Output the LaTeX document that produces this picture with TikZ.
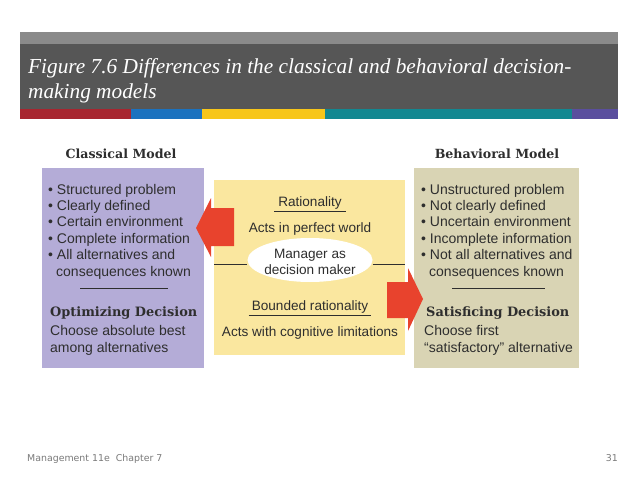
\documentclass[tikz,border=0pt]{standalone}
\usepackage{fontspec}
\setmainfont{Liberation Serif}
\setsansfont{Liberation Sans}
\newfontfamily\footfont{DejaVu Sans}
\newfontfamily\headserif{DejaVu Serif}
\usetikzlibrary{shapes.geometric,calc}
\definecolor{hdrlight}{HTML}{8A8A8A}
\definecolor{hdrdark}{HTML}{565656}
\definecolor{barred}{HTML}{A8252F}
\definecolor{barblue}{HTML}{1B72BF}
\definecolor{baryel}{HTML}{F7C61A}
\definecolor{barteal}{HTML}{128891}
\definecolor{barpurp}{HTML}{5A4E9E}
\definecolor{classbox}{HTML}{B4ACD7}
\definecolor{behavbox}{HTML}{D9D4B4}
\definecolor{midbox}{HTML}{FAE79F}
\definecolor{arrowred}{HTML}{E8432D}
\definecolor{txt}{HTML}{2E2E2E}
\definecolor{foot}{HTML}{7A7A7A}
\tikzset{
  body/.style={font=\sffamily\fontsize{14}{16}\selectfont, text=txt, inner sep=0pt, anchor=base west},
  mid/.style={font=\sffamily\fontsize{13.6}{16}\selectfont, text=txt, inner sep=0pt, anchor=base},
  heading/.style={font=\headserif\bfseries\fontsize{12.6}{14}\selectfont, text=txt, inner sep=0pt, anchor=base},
  decision/.style={font=\headserif\bfseries\fontsize{12.9}{15}\selectfont, text=txt, inner sep=0pt, anchor=base west},
  titletext/.style={font=\itshape\fontsize{21.3}{25}\selectfont, text=white, inner sep=0pt, anchor=base west},
  foottext/.style={font=\footfont\fontsize{9.4}{11}\selectfont, text=foot, inner sep=0pt},
  rule/.style={draw=txt, line width=0.7pt}
}
\begin{document}
\begin{tikzpicture}[x=1pt,y=-1pt]
\useasboundingbox (0,0) rectangle (638,479);
\fill[white] (0,0) rectangle (638,479);
% header
\fill[hdrlight] (20,32) rectangle (618,44);
\fill[hdrdark] (20,44) rectangle (618,109);
\fill[barred] (20,109) rectangle (131,119);
\fill[barblue] (131,109) rectangle (202,119);
\fill[baryel] (202,109) rectangle (325,119);
\fill[barteal] (325,109) rectangle (572,119);
\fill[barpurp] (572,109) rectangle (618,119);
\node[titletext] (title1) at (28,73) {Figure 7.6 Differences in the classical and behavioral decision-};
\node[titletext] (title2) at (28,98) {making models};
% boxes
\fill[classbox] (42,168) rectangle (204,368);
\fill[behavbox] (414,168) rectangle (579,368);
\fill[midbox] (214,180) rectangle (405,355);
\node[heading] (chead) at (121,158) {Classical Model};
\node[heading] (bhead) at (497,158) {Behavioral Model};
% classical list
\node[body] (c1) at (48,194) {• Structured problem};
\node[body] (c2) at (48,210.4) {• Clearly defined};
\node[body] (c3) at (48,226.8) {• Certain environment};
\node[body] (c4) at (48,243.2) {• Complete information};
\node[body] (c5) at (48,259.6) {• All alternatives and};
\node[body] (c6) at (56,276) {consequences known};
\coordinate (cl1) at (80,288);
\coordinate (cl2) at (168,288);
\draw[rule] (cl1) -- (cl2);
\node[decision] (cdec) at (50,316) {Optimizing Decision};
\node[body] (c7) at (50,335) {Choose absolute best};
\node[body] (c8) at (50,352) {among alternatives};
% behavioral list
\node[body] (b1) at (421,194) {• Unstructured problem};
\node[body] (b2) at (421,210.4) {• Not clearly defined};
\node[body] (b3) at (421,226.8) {• Uncertain environment};
\node[body] (b4) at (421,243.2) {• Incomplete information};
\node[body] (b5) at (421,259.6) {• Not all alternatives and};
\node[body] (b6) at (429,276) {consequences known};
\coordinate (bl1) at (452,288);
\coordinate (bl2) at (545,288);
\draw[rule] (bl1) -- (bl2);
\node[decision] (bdec) at (426,316) {Satisficing Decision};
\node[body] (b7) at (424,335) {Choose first};
\node[body] (b8) at (424,352) {“satisfactory” alternative};
% middle
\node[mid] (rat) at (310,206) {Rationality};
\draw[rule] ($(rat.base west)+(-4,5)$) -- ($(rat.base east)+(4,5)$);
\node[mid] (perf) at (310,232) {Acts in perfect world};
\coordinate (ml) at (214,264);
\coordinate (mr) at (405,264);
\node[ellipse, fill=white, minimum width=125pt, minimum height=44pt, inner sep=0pt] (mgr) at (310,260) {};
\draw[rule] (ml) -- (mgr.west |- ml);
\draw[rule] (mgr.east |- mr) -- (mr);
\node[mid] (mgr1) at (310,258) {Manager as};
\node[mid] (mgr2) at (310,274) {decision maker};
\node[mid] (brat) at (310,310) {Bounded rationality};
\draw[rule] ($(brat.base west)+(-3,5)$) -- ($(brat.base east)+(3,5)$);
\node[mid] (cog) at (310,336) {Acts with cognitive limitations};
% arrows
\fill[arrowred] (234,208) -- (211,208) -- (211,198) -- (196,228) -- (211,257) -- (211,246) -- (234,246) -- cycle;
\fill[arrowred] (387,282) -- (408,282) -- (408,268) -- (423,299) -- (408,331) -- (408,318) -- (387,318) -- cycle;
% footer
\node[foottext, anchor=base west] (foot1) at (27,461) {Management 11e\ \ Chapter 7};
\node[foottext, anchor=base east] (foot2) at (618,461) {31};
\end{tikzpicture}
\end{document}
